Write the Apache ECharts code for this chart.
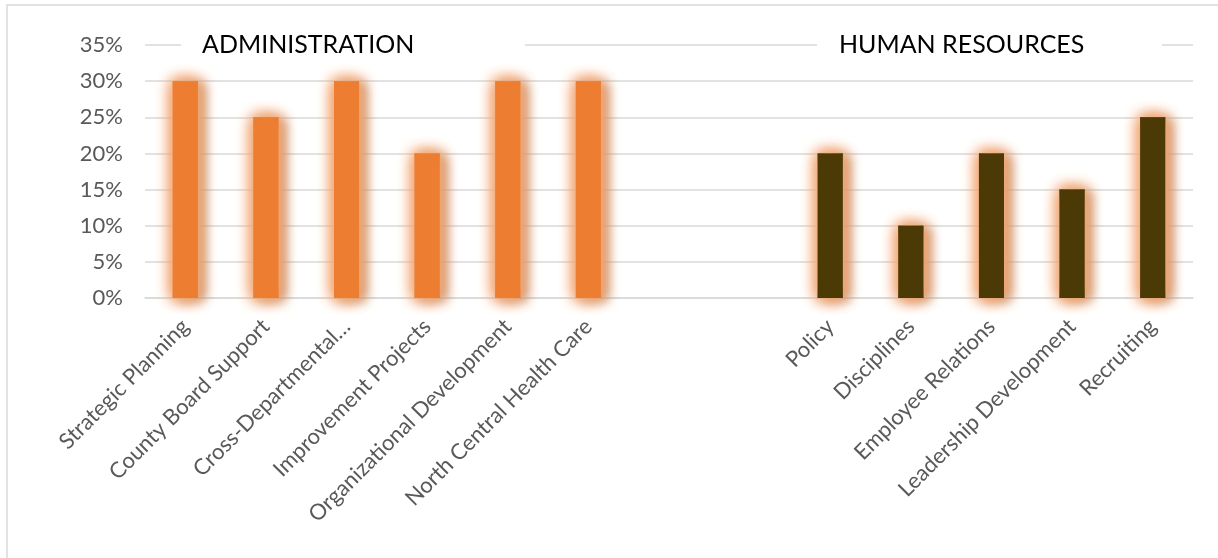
<!DOCTYPE html>
<html>
<head>
<meta charset="utf-8">
<script src="https://cdn.jsdelivr.net/npm/echarts@6/dist/echarts.min.js"></script>
<style>
html,body{margin:0;padding:0;background:#fff;}
#chart{width:1218px;height:558px;}
</style>
</head>
<body>
<div id="chart"></div>
<script>
const categories = [
  'Strategic Planning', 'County Board Support', 'Cross-Departmental…',
  'Improvement Projects', 'Organizational Development', 'North Central Health Care',
  '', ' ',
  'Policy', 'Disciplines', 'Employee Relations', 'Leadership Development', 'Recruiting'
];
const adminValues = [30, 25, 30, 20, 30, 30, '-', '-', '-', '-', '-', '-', '-'];
const hrValues = ['-', '-', '-', '-', '-', '-', '-', '-', 20, 10, 20, 15, 25];
const yTicks = { min: 0, max: 35, interval: 5 };
const groupTitles = ['ADMINISTRATION', 'HUMAN RESOURCES'];

const FONT = 'Lato';
const chart = echarts.init(document.getElementById('chart'));

const glow = {
  shadowColor: 'rgba(244,170,120,1)',
  shadowBlur: 16,
  shadowOffsetX: 0,
  shadowOffsetY: 0
};
const dropShadow = {
  shadowColor: 'rgba(150,90,45,0.8)',
  shadowBlur: 12,
  shadowOffsetX: 6,
  shadowOffsetY: 2
};

function barSeries(name, data, color, style, silent) {
  return {
    type: 'bar', name: name, data: data,
    barWidth: 25, barGap: '-100%', silent: !!silent,
    itemStyle: Object.assign({ color: color }, style)
  };
}

const series = [
  barSeries('Administration shadow', adminValues, '#ED7D31', dropShadow, true),
  barSeries('Human Resources shadow', hrValues, '#4B3A05', dropShadow, true)
];
for (let k = 0; k < 2; k++) {
  series.push(barSeries('Administration glow', adminValues, '#ED7D31', glow, true));
  series.push(barSeries('Human Resources glow', hrValues, '#4B3A05', glow, true));
}
series.push(barSeries('Administration', adminValues, '#ED7D31', glow));
series.push(barSeries('Human Resources', hrValues, '#4B3A05', glow));

chart.setOption({
  animation: false,
  backgroundColor: '#fff',
  textStyle: { fontFamily: FONT },
  grid: { left: 145, right: 25, top: 45, bottom: 260 },
  xAxis: {
    type: 'category',
    data: categories,
    axisLine: { lineStyle: { color: '#d9d9d9', width: 1.5 } },
    axisTick: { show: false },
    axisLabel: {
      interval: 0, rotate: 45, color: '#595959', fontSize: 22,
      fontFamily: FONT, margin: 25
    }
  },
  yAxis: {
    type: 'value',
    min: yTicks.min, max: yTicks.max, interval: yTicks.interval,
    axisLine: { show: false },
    axisTick: { show: false },
    splitLine: { lineStyle: { color: '#d9d9d9', width: 1.5 } },
    axisLabel: {
      color: '#595959', fontSize: 22, fontFamily: FONT, margin: 22,
      formatter: '{value}%'
    }
  },
  graphic: [
    { type: 'rect', z: 100, shape: { x: 7, y: 5, width: 1230, height: 580 },
      style: { fill: 'none', stroke: '#d9d9d9', lineWidth: 1.5 } },
    { type: 'rect', z: 100, shape: { x: 181, y: 26, width: 344, height: 38 },
      style: { fill: '#fff' } },
    { type: 'text', z: 101, x: 202, y: 45,
      style: { text: groupTitles[0], fill: '#000', font: '25px Lato', textVerticalAlign: 'middle' } },
    { type: 'rect', z: 100, shape: { x: 817, y: 26, width: 345, height: 38 },
      style: { fill: '#fff' } },
    { type: 'text', z: 101, x: 839, y: 45,
      style: { text: groupTitles[1], fill: '#000', font: '25px Lato', textVerticalAlign: 'middle' } }
  ],
  series: series
});
</script>
</body>
</html>
